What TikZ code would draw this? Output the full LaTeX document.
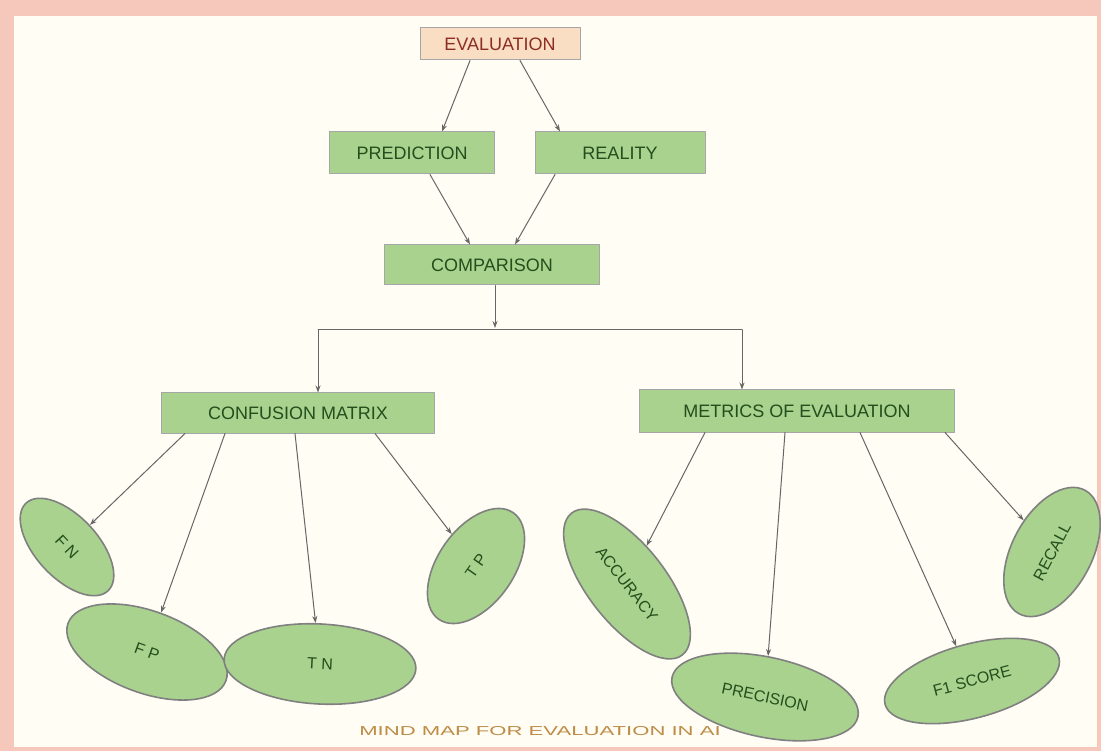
\documentclass[tikz,border=0pt]{standalone}
\usepackage{fontspec}
\setmainfont{Liberation Sans}
\usetikzlibrary{arrows.meta,shapes.geometric}
\definecolor{mmpink}{RGB}{246,200,188}
\definecolor{mmcream}{RGB}{255,253,244}
\definecolor{mmgreen}{RGB}{168,210,142}
\definecolor{mmtext}{RGB}{36,78,28}
\definecolor{mmpeach}{RGB}{250,222,195}
\definecolor{mmred}{RGB}{140,45,35}
\definecolor{mmcap}{RGB}{190,140,70}

\begin{document}
\begin{tikzpicture}[x=1pt,y=-1pt,line cap=round,line join=round,font=\fontsize{18}{21}\selectfont,
  box/.style={draw=black!35,fill=mmgreen,text=mmtext,minimum height=42pt,inner sep=0pt,line width=1pt},
  leaf/.style={ellipse,draw=black!50,fill=mmgreen,text=mmtext,inner sep=0pt,line width=1.6pt,font=\fontsize{16}{19}\selectfont},
  link/.style={-{Stealth[length=7pt,width=5pt]},black!60,line width=1pt}]
\useasboundingbox (0,0) rectangle (1101,751);
\fill[mmpink] (0,0) rectangle (1101,751);
\fill[mmcream] (14,16) rectangle (1097,747);
% top of the map
\node[box,fill=mmpeach,text=mmred,minimum width=160pt,minimum height=32pt] (eval) at (500,44) {EVALUATION};
\node[box,minimum width=165pt] (pred) at (412,153) {PREDICTION};
\node[box,minimum width=170pt] (real) at (620,153) {REALITY};
\node[box,minimum width=215pt,minimum height=40pt] (comp) at (492,265) {COMPARISON};
\draw[link] ([xshift=-30pt]eval.south) -- ([xshift=30pt]pred.north);
\draw[link] ([xshift=20pt]eval.south) -- ([xshift=-60pt]real.north);
\draw[link] ([xshift=18pt]pred.south) -- ([xshift=-22pt]comp.north);
\draw[link] ([xshift=-65pt]real.south) -- ([xshift=23pt]comp.north);
% split into two branches
\node[box,minimum width=273pt,minimum height=40pt] (conf) at (298,413) {CONFUSION MATRIX};
\node[box,minimum width=315pt] (metr) at (797,411) {METRICS OF EVALUATION};
\coordinate (join) at (495,328);
\coordinate (joinl) at (318,330);
\coordinate (joinr) at (742,330);
\draw[link] ([xshift=3pt]comp.south) -- (join);
\draw[black!60,line width=1pt] (joinl) -- (joinr);
\draw[link] (joinl) -- (joinl |- conf.north);
\draw[link] (joinr) -- (joinr |- metr.north);
% confusion matrix leaves
\node[leaf,rotate=-47,minimum width=120pt,minimum height=62pt] (fn) at (67,547) {F N};
\node[leaf,rotate=-20,minimum width=168pt,minimum height=82pt] (fp) at (147,652) {F P};
\node[leaf,rotate=-3,minimum width=192pt,minimum height=80pt] (tn) at (320,664) {T N};
\node[leaf,rotate=55,minimum width=130pt,minimum height=76pt] (tp) at (476,566) {T P};
\draw[link] ([xshift=-113pt]conf.south) -- (fn);
\draw[link] ([xshift=-73pt]conf.south) -- (fp);
\draw[link] ([xshift=-3pt]conf.south) -- (tn);
\draw[link] ([xshift=77pt]conf.south) -- (tp);
% metric leaves
\node[leaf,rotate=-52,minimum width=180pt,minimum height=78pt] (acc) at (627,584) {ACCURACY};
\node[leaf,rotate=-12,minimum width=190pt,minimum height=80pt] (prec) at (765,697) {PRECISION};
\node[leaf,rotate=15,minimum width=180pt,minimum height=74pt] (fone) at (972,681) {F1 SCORE};
\node[leaf,rotate=62,minimum width=140pt,minimum height=80pt] (rec) at (1052,552) {RECALL};
\draw[link] ([xshift=-92pt]metr.south) -- (acc);
\draw[link] ([xshift=-12pt]metr.south) -- (prec);
\draw[link] ([xshift=63pt]metr.south) -- (fone);
\draw[link] ([xshift=148pt]metr.south) -- (rec);
\node[text=mmcap,font=\fontsize{13}{15}\selectfont] (cap) at (540,731) {\scalebox{1.7}[1]{MIND MAP FOR EVALUATION IN AI}};
\end{tikzpicture}
\end{document}
